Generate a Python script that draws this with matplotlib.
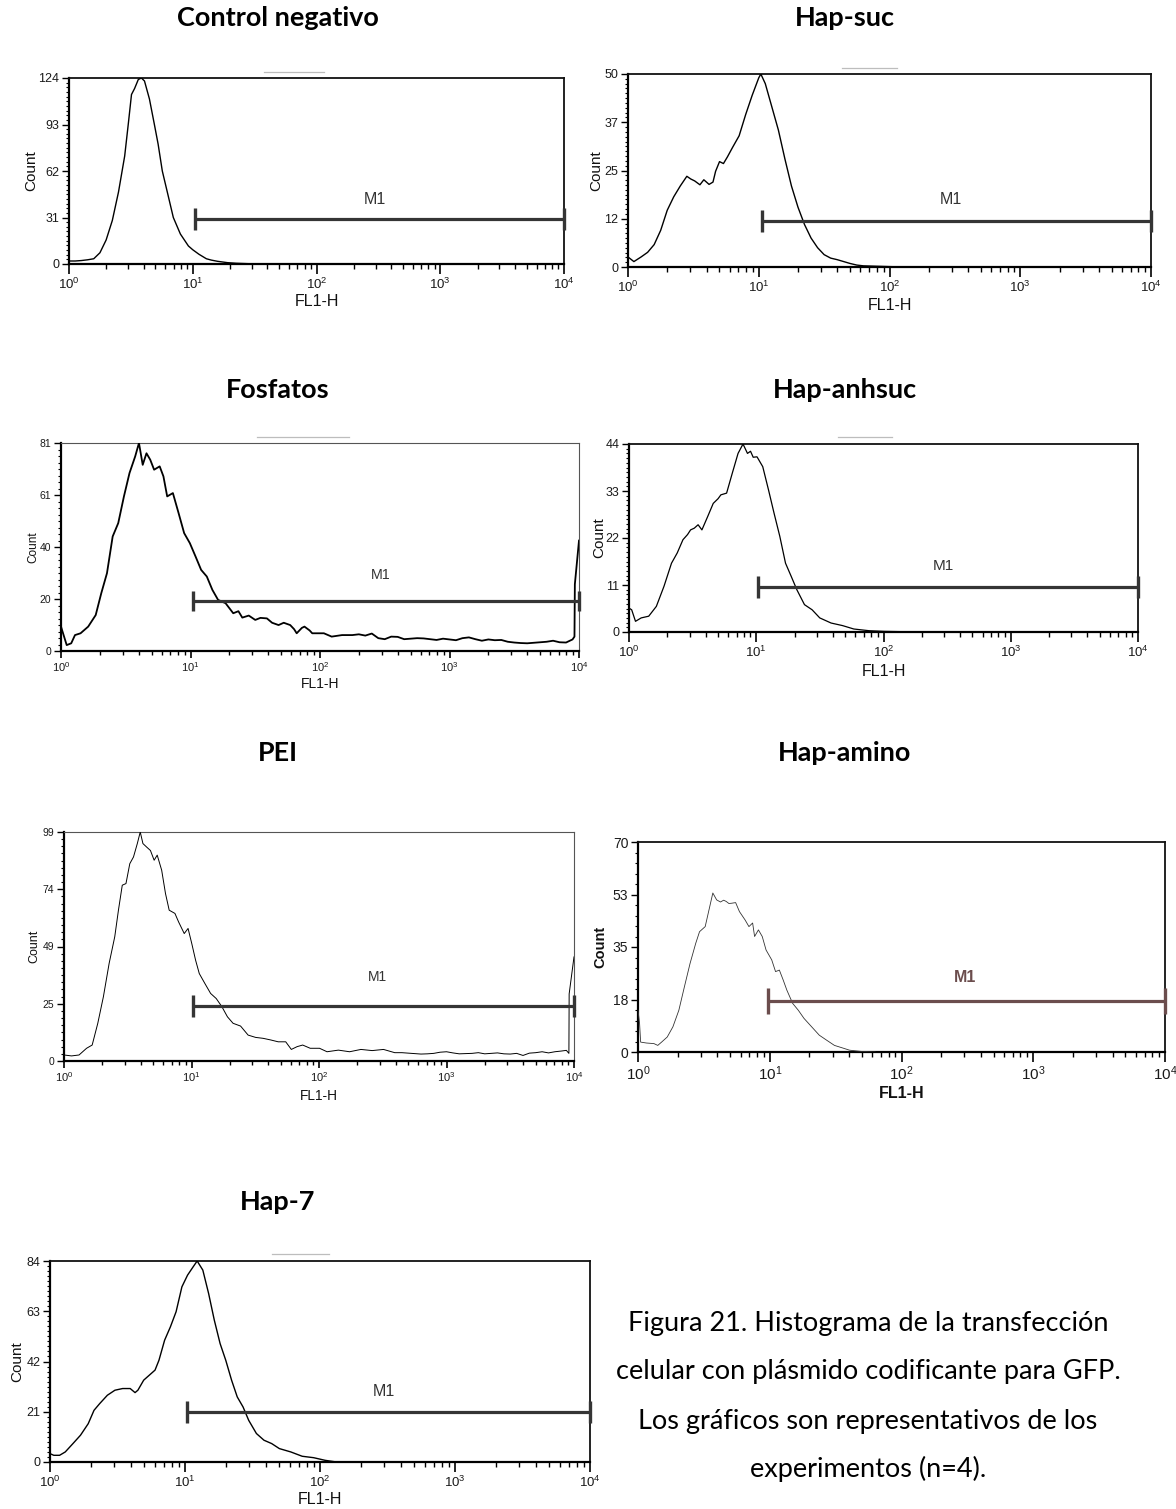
import numpy as np
import matplotlib
matplotlib.use("Agg")
import matplotlib.pyplot as plt
from matplotlib.ticker import MultipleLocator, LogLocator, NullFormatter
from matplotlib.lines import Line2D

# ----------------------------------------------------------------- data
titles = ["Control negativo", "Hap-suc", "Fosfatos", "Hap-anhsuc", "PEI", "Hap-amino", "Hap-7"]

# log10(FL1-H) channel positions and counts
ctrl_exp = [0, 0.05, 0.10, 0.15, 0.20, 0.25, 0.30, 0.35, 0.40, 0.45, 0.48, 0.505, 0.53, 0.56, 0.585, 0.61,
            0.65, 0.69, 0.72, 0.754, 0.80, 0.843, 0.90, 0.965, 1.00, 1.05, 1.11, 1.15, 1.20, 1.28, 1.35, 1.45, 1.55]
ctrl_cnt = [2, 2, 2.3, 2.8, 3.5, 7.5, 16, 29, 48, 72, 94, 113, 117, 123, 124, 122,
            110, 93, 80, 62, 46, 31, 20, 12, 9.5, 6.5, 3.5, 2.6, 1.8, 0.9, 0.5, 0.2, 0]

suc_exp = [0, 0.045, 0.10, 0.15, 0.20, 0.25, 0.30, 0.35, 0.40, 0.45, 0.48, 0.51, 0.55, 0.58, 0.62, 0.65,
           0.67, 0.70, 0.73, 0.76, 0.80, 0.85, 0.90, 0.95, 1.00, 1.016, 1.05, 1.10, 1.15, 1.20, 1.25, 1.30,
           1.35, 1.40, 1.45, 1.50, 1.55, 1.60, 1.65, 1.70, 1.75, 1.80, 1.90, 2.00, 2.10]
suc_cnt = [2.6, 1.4, 2.6, 3.8, 5.8, 9.5, 14.7, 18.2, 21, 23.5, 22.8, 22.3, 21.3, 22.6, 21.4, 22,
           24.8, 27.3, 26.8, 28.5, 31, 34, 39.5, 44.5, 49, 50, 47.5, 41.5, 35.5, 28, 21, 15.5,
           11, 7.5, 5, 3.2, 2.3, 1.9, 1.4, 0.9, 0.5, 0.3, 0.2, 0.1, 0]

fos_exp = [0, 0.044, 0.079, 0.108, 0.151, 0.21, 0.268, 0.311, 0.355, 0.399,
           0.442, 0.486, 0.529, 0.573, 0.602, 0.631, 0.66, 0.689, 0.719, 0.762,
           0.791, 0.82, 0.864, 0.908, 0.951, 0.995, 1.039, 1.082, 1.126, 1.169,
           1.213, 1.271, 1.33, 1.37, 1.40, 1.45, 1.50, 1.54, 1.59, 1.63,
           1.68, 1.72, 1.77, 1.80, 1.82, 1.86, 1.88, 1.92, 1.94, 2.03,
           2.09, 2.17, 2.25, 2.30, 2.35, 2.40, 2.45, 2.50, 2.55, 2.60,
           2.65, 2.70, 2.75, 2.80, 2.85, 2.90, 2.95, 3.00, 3.05, 3.10,
           3.15, 3.20, 3.25, 3.30, 3.35, 3.40, 3.45, 3.50, 3.55, 3.60,
           3.65, 3.70, 3.75, 3.80, 3.85, 3.90, 3.95, 3.965, 3.968, 4.0]
fos_cnt = [9.5, 2.3, 3, 6.2, 6.9, 9.5, 14, 22.5, 30.3, 44.6,
           49.8, 60.2, 69.3, 75.8, 81, 72.5, 77, 74.5, 70.6, 71.9,
           68, 60.2, 61.5, 53.7, 45.9, 42, 36.8, 31.6, 29, 23.8,
           19.9, 18.6, 14.7, 15.5, 13, 13.8, 12.1, 12.9, 12.7, 11,
           10.1, 11, 10.1, 8.5, 6.9, 9.0, 9.5, 8, 6.9, 6.9,
           5.6, 6.2, 6.2, 6.5, 6, 6.8, 5, 4.6, 5.6, 5.5,
           4.6, 4.8, 5, 4.9, 4.6, 4.3, 4.8, 4.5, 4.2, 5,
           5.3, 4.6, 4, 4.5, 4.2, 4.3, 3.6, 3.3, 3.1, 3.0,
           3.2, 3.4, 3.6, 4.0, 3.4, 3.3, 4.5, 5.6, 26, 43]

anh_exp = [0, 0.021, 0.051, 0.096, 0.155, 0.215, 0.275, 0.334, 0.379, 0.424,
           0.46, 0.484, 0.513, 0.543, 0.573, 0.618, 0.662, 0.70, 0.722, 0.767,
           0.812, 0.857, 0.896, 0.931, 0.955, 0.976, 1.006, 1.051, 1.096, 1.14,
           1.185, 1.23, 1.275, 1.319, 1.379, 1.439, 1.499, 1.588, 1.678, 1.767,
           1.887, 2.006, 2.2, 2.4]
anh_cnt = [5.6, 5.2, 2.5, 3.3, 3.7, 6, 10.7, 16.1, 18.5, 21.6,
           22.8, 23.9, 24.3, 25.1, 23.9, 27, 30.1, 31.2, 32.1, 32.5,
           37.2, 41.8, 44, 41.8, 42.3, 40.9, 41, 38.7, 33.3, 27.8,
           22.4, 16.1, 13, 9.9, 6.4, 5.2, 3.3, 2.1, 1.5, 0.7,
           0.3, 0.15, 0.05, 0]

pei_exp = [0, 0.059, 0.118, 0.177, 0.221, 0.265, 0.309, 0.354, 0.398, 0.427,
           0.457, 0.486, 0.516, 0.545, 0.575, 0.598, 0.619, 0.648, 0.678, 0.707,
           0.731, 0.766, 0.796, 0.825, 0.87, 0.899, 0.943, 0.973, 1.002, 1.032,
           1.061, 1.105, 1.15, 1.194, 1.238, 1.282, 1.326, 1.385, 1.444, 1.503,
           1.562, 1.621, 1.68, 1.739, 1.783, 1.828, 1.872, 1.931, 2.004, 2.063,
           2.152, 2.24, 2.329, 2.417, 2.506, 2.594, 2.65, 2.70, 2.75, 2.80,
           2.85, 2.90, 2.95, 3.00, 3.05, 3.10, 3.15, 3.20, 3.25, 3.30,
           3.35, 3.40, 3.45, 3.50, 3.55, 3.60, 3.65, 3.70, 3.75, 3.80,
           3.85, 3.90, 3.94, 3.96, 3.962, 4.0]
pei_cnt = [2.6, 2.2, 2.6, 5.5, 6.9, 16.3, 27.8, 42.2, 53.7, 65.2,
           76, 76.7, 85.3, 88.2, 94, 99, 94, 92.5, 91, 86.8,
           89, 82.5, 72.4, 65.2, 63.8, 60.1, 55.1, 57.3, 50.8, 43.6,
           37.8, 33.5, 29.2, 27, 23.5, 19.1, 16.3, 15.1, 11.2, 10.2,
           9.8, 9.1, 8.3, 8.3, 5, 6.2, 6.9, 5.5, 5.5, 4,
           4.7, 4, 5, 4.5, 5, 3.6, 3.6, 3.4, 3.2, 3,
           3.1, 3.3, 3.8, 4, 3.5, 3.1, 3.2, 3.3, 3.6, 3.1,
           3.3, 3.5, 3.1, 3.0, 3.3, 2.4, 3.4, 3.6, 4, 3.5,
           4, 4.3, 4.6, 3.3, 29, 45]

ami_exp = [0, 0.012, 0.02, 0.063, 0.121, 0.15, 0.179, 0.222, 0.265, 0.31,
           0.352, 0.395, 0.438, 0.467, 0.51, 0.539, 0.568, 0.597, 0.626, 0.65,
           0.669, 0.69, 0.712, 0.741, 0.77, 0.813, 0.842, 0.87, 0.885, 0.914,
           0.943, 0.972, 1.015, 1.044, 1.073, 1.102, 1.13, 1.174, 1.217, 1.26,
           1.318, 1.376, 1.433, 1.491, 1.549, 1.606, 1.693, 1.8]
ami_cnt = [14, 9.5, 3.3, 3, 2.8, 2.2, 3.3, 5, 8.4, 13.9,
           21.7, 29.5, 36.2, 40.1, 41.8, 47.4, 53, 50.7, 50, 50.6,
           50.2, 49.5, 49.6, 49.8, 46.8, 44, 41.8, 43, 38.5, 40.7,
           38.5, 34, 30.7, 26.8, 27.3, 24, 20.6, 16.2, 13.9, 11.2,
           8.4, 5.6, 3.9, 2.2, 1.4, 0.6, 0.2, 0]

h7_exp = [0, 0.028, 0.071, 0.113, 0.17, 0.226, 0.283, 0.326, 0.368, 0.425,
          0.481, 0.538, 0.594, 0.63, 0.651, 0.694, 0.736, 0.778, 0.807, 0.849,
          0.892, 0.934, 0.977, 1.019, 1.062, 1.09, 1.132, 1.175, 1.217, 1.26,
          1.302, 1.345, 1.387, 1.43, 1.472, 1.529, 1.585, 1.642, 1.699, 1.784,
          1.868, 1.953, 2.038, 2.123]
h7_cnt = [3.5, 2.8, 2.8, 4.2, 7.7, 11.2, 16, 21.6, 24.4, 27.9,
          30, 30.7, 30.7, 29, 30, 34.2, 36.3, 38.4, 42.5, 50.9,
          56.5, 62.8, 73.2, 78.1, 81.7, 84, 80.2, 70.4, 59.3, 49.5,
          42.5, 34.2, 27.2, 23, 17.4, 11.9, 9.1, 7.7, 5.6, 4.2,
          2.4, 1.8, 0.7, 0]

y_max = [124, 50, 81, 44, 99, 70, 84]
y_tick_labels = [["0", "31", "62", "93", "124"],
                 ["0", "12", "25", "37", "50"],
                 ["0", "20", "40", "61", "81"],
                 ["0", "11", "22", "33", "44"],
                 ["0", "25", "49", "74", "99"],
                 ["0", "18", "35", "53", "70"],
                 ["0", "21", "42", "63", "84"]]
x_ticks = [1, 10, 100, 1000, 10000]
x_tick_labels = [r"$\mathdefault{10^{0}}$", r"$\mathdefault{10^{1}}$", r"$\mathdefault{10^{2}}$",
                 r"$\mathdefault{10^{3}}$", r"$\mathdefault{10^{4}}$"]

# M1 gate: start, end and drawing level (count)
m1_start = [10.5, 10.6, 10.4, 10.4, 10.2, 9.7, 10.4]
m1_end = [10000, 10000, 10000, 10000, 10000, 10000, 10000]
m1_level = [30, 12, 19.6, 10.5, 23.8, 17, 20.8]

caption = ["Figura 21. Histograma de la transfección",
           "celular con plásmido codificante para GFP.",
           "Los gráficos son representativos de los",
           "experimentos (n=4)."]

series = [(ctrl_exp, ctrl_cnt), (suc_exp, suc_cnt), (fos_exp, fos_cnt), (anh_exp, anh_cnt),
          (pei_exp, pei_cnt), (ami_exp, ami_cnt), (h7_exp, h7_cnt)]

# ----------------------------------------------------------------- layout / style
W, H = 1176, 1509
plt.rcParams["font.family"] = ["Liberation Sans", "DejaVu Sans"]
plt.rcParams["mathtext.fontset"] = "custom"
plt.rcParams["mathtext.rm"] = "Liberation Sans"
plt.rcParams["mathtext.it"] = "Liberation Sans:italic"
plt.rcParams["mathtext.bf"] = "Liberation Sans:bold"

box_px = [(69, 78, 564, 264), (628, 74, 1151, 267), (61, 443, 579, 651), (629, 444, 1138, 632),
          (64, 832, 574, 1061), (638, 842, 1165, 1052), (50, 1261, 590, 1462)]
title_xy = [(278, 18), (845, 18), (278, 390), (845, 390), (278, 753), (845, 753), (278, 1202)]
count_x = [31, 596, 33, 599, 34, 600, 17]
fl1_y = [301, 306, 684, 671, 1096, 1093, 1500]
ytick_fs = [9, 9, 7.5, 9, 7.5, 10, 9]
xtick_fs = [9.5, 9.5, 8, 9.5, 8, 11, 9.5]
xtick_len = [7, 7, 5, 7, 5, 7, 7]
xtick_pad = [2, 2, 1.5, 2, 1.5, 2, 2]
count_fs = [11, 11, 8.5, 11, 9, 10.5, 11]
fl1_fs = [11.5, 11.5, 10, 11.5, 9.8, 11.5, 11.5]
bold_lab = [False, False, False, False, False, True, False]
m1_txt_exp = [2.47, 2.47, 2.47, 2.47, 2.46, 2.48, 2.47]
m1_txt_y = [43, 17.4, 29.6, 15.4, 36.3, 24.7, 29.4]
m1_fs = [11.5, 11.5, 10.3, 11, 10, 11.5, 11.5]
curve_lw = [1.0, 1.0, 1.3, 0.9, 0.7, 0.6, 1.0]
curve_col = ["black", "black", "black", "black", "black", "#333333", "black"]
bar_col = ["#353535"] * 5 + ["#6b4d4d"] + ["#353535"]
bar_tick = [16, 16, 15, 16, 16, 19, 16]
minor_n = [10, 10, 8, 10, 8, 5, 10]
thin_frame = [False, False, True, False, True, False, False]
deco_lines = [(264, 324, 72), (842, 897, 68), (257, 349, 437), (838, 892, 437), (272, 329, 1254)]

fig = plt.figure(figsize=(W / 100, H / 100), dpi=100)
fig.patch.set_facecolor("white")
renderer = fig.canvas.get_renderer()


def fx(x):
    return x / W


def fy(y):
    return 1 - y / H


for i in range(7):
    l, t, r, b = box_px[i]
    ax = fig.add_axes([fx(l), fy(b), (r - l) / W, (b - t) / H])
    exps, cnts = series[i]
    xs = 10 ** np.asarray(exps, dtype=float)
    ax.plot(xs, cnts, color=curve_col[i], lw=curve_lw[i], zorder=3)

    # M1 gate
    ax.plot([m1_start[i], m1_end[i]], [m1_level[i], m1_level[i]], color=bar_col[i], lw=2.3,
            marker="|", markersize=bar_tick[i], markeredgewidth=2.4, clip_on=False, zorder=4,
            solid_capstyle="butt")
    ax.text(10 ** m1_txt_exp[i], m1_txt_y[i], "M1", ha="center", va="center", fontsize=m1_fs[i],
            color=bar_col[i] if i == 5 else "#333333", fontweight="bold" if i == 5 else "normal")

    ax.set_xscale("log")
    ax.set_xlim(1, 10000)
    ax.set_ylim(0, y_max[i])
    ax.set_xticks(x_ticks)
    ax.set_xticklabels(x_tick_labels)
    ax.xaxis.set_minor_locator(LogLocator(base=10, subs=np.arange(2, 10)))
    ax.xaxis.set_minor_formatter(NullFormatter())
    ax.set_yticks([y_max[i] * k / 4 for k in range(5)])
    ax.set_yticklabels(y_tick_labels[i])
    ax.yaxis.set_minor_locator(MultipleLocator(y_max[i] / 4 / minor_n[i]))

    ax.tick_params(axis="x", which="major", direction="out", length=xtick_len[i], width=1.2,
                   pad=xtick_pad[i], labelsize=xtick_fs[i])
    ax.tick_params(axis="x", which="minor", direction="out", length=xtick_len[i] * 0.55, width=1.0)
    ax.tick_params(axis="y", which="major", direction="out", length=5, width=1.0, pad=2,
                   labelsize=ytick_fs[i])
    ax.tick_params(axis="y", which="minor", direction="out", length=2.5, width=0.8)
    for lab in ax.get_xticklabels() + ax.get_yticklabels():
        lab.set_color("#1a1a1a")

    for side in ["left", "bottom"]:
        ax.spines[side].set_linewidth(1.6)
        ax.spines[side].set_color("black")
    for side in ["top", "right"]:
        if thin_frame[i]:
            ax.spines[side].set_linewidth(0.8)
            ax.spines[side].set_color("#555555")
        else:
            ax.spines[side].set_linewidth(1.3)
            ax.spines[side].set_color("#111111")

    # axis labels
    fw = "bold" if bold_lab[i] else "normal"
    fig.text(fx(count_x[i]), fy((t + b) / 2), "Count", rotation=90, ha="center", va="center",
             fontsize=count_fs[i], fontweight=fw, color="#111111")
    fig.text(fx((l + r) / 2), fy(fl1_y[i]), "FL1-H", ha="center", va="center",
             fontsize=fl1_fs[i], fontweight=fw, color="#111111")

# small grey marker lines above some plots
for x1, x2, y in deco_lines:
    fig.add_artist(Line2D([fx(x1), fx(x2)], [fy(y), fy(y)], transform=fig.transFigure,
                          color="#bdbdbd", lw=0.9))

# titles (bold), fitted to reference width
title_objs = []
for i in range(7):
    tx, ty = title_xy[i]
    title_objs.append(fig.text(fx(tx), fy(ty), titles[i], ha="center", va="center",
                               fontsize=16, fontweight="bold", family=["Lato", "DejaVu Sans"]))
w0 = title_objs[0].get_window_extent(renderer).width
tsize = 16 * 202 / w0
for t_ in title_objs:
    t_.set_fontsize(tsize)

# caption
cap_y = [1323, 1372, 1421, 1469]
cap_objs = []
for k, line in enumerate(caption):
    cap_objs.append(fig.text(fx(868), fy(cap_y[k]), line, ha="center", va="center",
                             fontsize=17, family=["Lato", "DejaVu Sans"], color="black"))
w1 = cap_objs[1].get_window_extent(renderer).width
csize = 17 * 503 / w1
for c_ in cap_objs:
    c_.set_fontsize(csize)

fig.savefig("out.png", dpi=100, facecolor="white")
